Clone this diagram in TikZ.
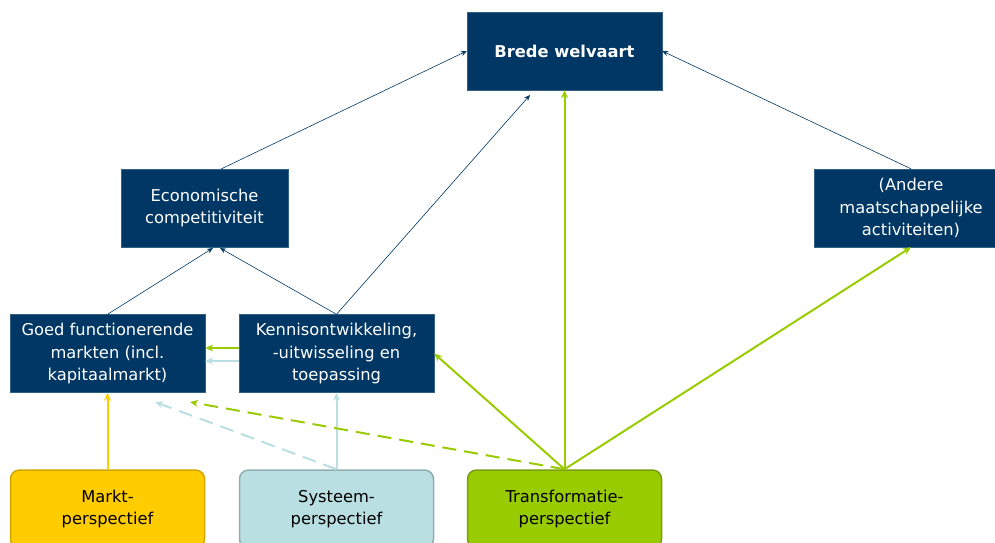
\documentclass[tikz,border=0pt]{standalone}
\usepackage{fontspec}
\setmainfont{DejaVu Sans}
\usetikzlibrary{arrows.meta}
\definecolor{navy}{HTML}{003764}
\definecolor{lgreen}{HTML}{99CC00}
\definecolor{dgreen}{HTML}{7A9E10}
\definecolor{gold}{HTML}{FFCC00}
\definecolor{dgold}{HTML}{D2A600}
\definecolor{lblue}{HTML}{B9DFE3}
\definecolor{dblue}{HTML}{93AEB2}
\tikzset{
  navybox/.style={draw=navy!80!white, fill=navy, text=white, minimum width=195pt, minimum height=78pt, align=center, inner sep=1pt, font=\fontsize{16.3}{22.5}\selectfont},
  persp/.style={rounded corners=9pt, line width=1.5pt, minimum width=194pt, minimum height=78pt, align=center, text=black, font=\fontsize{16.3}{22.5}\selectfont},
  thin/.style={draw=navy, line width=0.6pt, -{Stealth[length=6pt,width=5pt]}},
  garr/.style={draw=lgreen, line width=2pt, -{Stealth[length=8pt,width=7pt]}},
  barr/.style={draw=lblue, line width=2pt, -{Stealth[length=8pt,width=7pt]}},
  yarr/.style={draw=gold, line width=2pt, -{Stealth[length=8pt,width=7pt]}},
}
\begin{document}
\begin{tikzpicture}[x=1pt,y=-1pt]
\useasboundingbox (0,0) rectangle (995,542);
\clip (0,0) rectangle (995,542);
\node[navybox, font=\fontsize{16.3}{22.5}\selectfont\bfseries] (bw) at (564.5,51) {Brede welvaart};
\node[navybox, minimum width=167pt] (ec) at (204.5,208) {Economische\\competitiviteit};
\node[navybox, minimum width=194pt] (an) at (911,208) {(Andere\\maatschappelijke\\activiteiten)};
\node[navybox] (gm) at (107.5,353.5) {Goed functionerende\\markten (incl.\\kapitaalmarkt)};
\node[navybox] (kn) at (336.5,353.5) {Kennisontwikkeling,\\-uitwisseling en\\toepassing};
\node[persp, draw=dgold, fill=gold] (mp) at (107.5,509) {Markt-\\perspectief};
\node[persp, draw=dblue, fill=lblue] (sp) at (336.5,509) {Systeem-\\perspectief};
\node[persp, draw=dgreen, fill=lgreen] (tp) at (564.5,509) {Transformatie-\\perspectief};
\coordinate (bwlow) at (530,95);
\coordinate (ecb1) at (213,248);
\coordinate (ecb2) at (220,248);
\coordinate (gmd1) at (155,402);
\coordinate (gmd2) at (190,402);
% thin navy
\draw[thin] (221,169) -- (bw.west);
\draw[thin] (kn.north) -- (bwlow);
\draw[thin] (an.north) -- (bw.east);
\draw[thin] (gm.north) -- (ecb1);
\draw[thin] (kn.north) -- (ecb2);
% horizontal between kn and gm
\draw[garr] (kn.west |- 0,348) -- (gm.east |- 0,348);
\draw[barr] (kn.west |- 0,361) -- (gm.east |- 0,361);
% perspectives
\draw[yarr] (mp.north) -- (gm.south);
\draw[barr] (sp.north) -- (kn.south);
\draw[barr, dash pattern=on 14pt off 8pt] (sp.north) -- (gmd1);
\draw[garr] (tp.north) -- (bw.south);
\draw[garr] (tp.north) -- (kn.east);
\draw[garr] (tp.north) -- (an.south);
\draw[garr, dash pattern=on 14pt off 8pt] (tp.north) -- (gmd2);
\end{tikzpicture}
\end{document}
